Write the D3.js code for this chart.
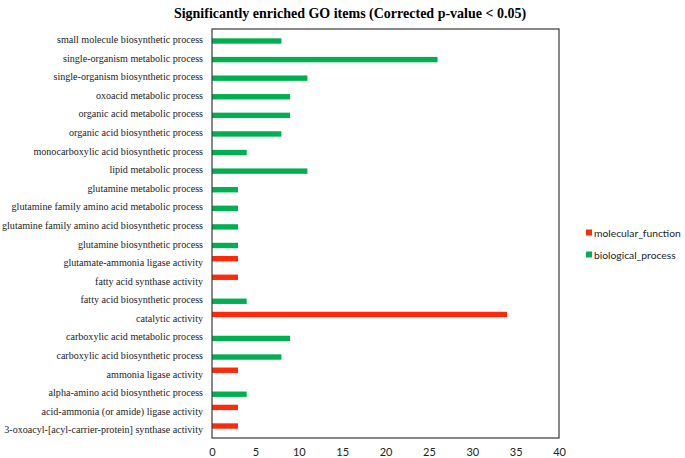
<!DOCTYPE html>
<html>
<head>
<meta charset="utf-8">
<script src="https://cdn.jsdelivr.net/npm/d3@7"></script>
<style>
  body { margin: 0; background: #fff; }
  svg { display: block; }
</style>
</head>
<body>
<svg id="chart" width="685" height="458"></svg>
<script>
const width = 685, height = 458;
const svg = d3.select("#chart");

// GO terms, top to bottom
const terms = [
  "small molecule biosynthetic process",
  "single-organism metabolic process",
  "single-organism biosynthetic process",
  "oxoacid metabolic process",
  "organic acid metabolic process",
  "organic acid biosynthetic process",
  "monocarboxylic acid biosynthetic process",
  "lipid metabolic process",
  "glutamine metabolic process",
  "glutamine family amino acid metabolic process",
  "glutamine family amino acid biosynthetic process",
  "glutamine biosynthetic process",
  "glutamate-ammonia ligase activity",
  "fatty acid synthase activity",
  "fatty acid biosynthetic process",
  "catalytic activity",
  "carboxylic acid metabolic process",
  "carboxylic acid biosynthetic process",
  "ammonia ligase activity",
  "alpha-amino acid biosynthetic process",
  "acid-ammonia (or amide) ligase activity",
  "3-oxoacyl-[acyl-carrier-protein] synthase activity"
];

const seriesNames = ["molecular_function", "biological_process"];
const molecularFunction = [0,0,0,0,0,0,0,0,0,0,0,0,3,3,0,34,0,0,3,0,3,3];
const biologicalProcess = [8,26,11,9,9,8,4,11,3,3,3,3,0,0,4,0,9,8,0,4,0,0];
const xTicks = [0, 5, 10, 15, 20, 25, 30, 35, 40];

const colors = { molecular_function: "#ff2a0a", biological_process: "#00b050" };

const rows = terms.map((t, i) => ({
  term: t,
  molecular_function: molecularFunction[i],
  biological_process: biologicalProcess[i]
}));

const plot = { left: 212, right: 559, top: 29, bottom: 438 };

const x = d3.scaleLinear().domain([0, 40]).range([plot.left, plot.right]);
const y = d3.scaleBand().domain(terms).range([plot.top, plot.bottom])
  .paddingInner(0.42).paddingOuter(0.21);
const ySub = d3.scaleBand().domain(seriesNames).range([0, y.bandwidth()]);

// title
svg.append("text")
  .attr("x", 350).attr("y", 18)
  .attr("text-anchor", "middle")
  .attr("font-family", "Liberation Serif")
  .attr("font-weight", "bold")
  .attr("font-size", 14)
  .text("Significantly enriched GO items (Corrected p-value < 0.05)");

// bars
const groups = svg.append("g").selectAll("g")
  .data(rows)
  .join("g")
    .attr("transform", d => `translate(0,${y(d.term)})`);

groups.selectAll("rect")
  .data(d => seriesNames.map(s => ({ key: s, value: d[s] })).filter(e => e.value > 0))
  .join("rect")
    .attr("x", x(0))
    .attr("y", d => ySub(d.key))
    .attr("width", d => x(d.value) - x(0))
    .attr("height", ySub.bandwidth())
    .attr("fill", d => colors[d.key]);

// frame
svg.append("rect")
  .attr("x", plot.left).attr("y", plot.top)
  .attr("width", plot.right - plot.left).attr("height", plot.bottom - plot.top)
  .attr("fill", "none")
  .attr("stroke", "#3a3a3a")
  .attr("stroke-width", 1.2);

// y labels
const yAxis = d3.axisLeft(y).tickSize(0).tickPadding(9);
svg.append("g")
  .attr("transform", `translate(${plot.left},1.5)`)
  .call(yAxis)
  .call(g => g.select(".domain").remove())
  .selectAll("text")
    .attr("font-family", "Liberation Serif")
    .attr("font-size", 10.1)
    .attr("fill", "#222");

// x ticks
const xAxis = d3.axisBottom(x).tickValues(xTicks).tickSize(0).tickPadding(10);
svg.append("g")
  .attr("transform", `translate(0,${plot.bottom})`)
  .call(xAxis)
  .call(g => g.select(".domain").remove())
  .selectAll("text")
    .attr("font-family", "Lato")
    .attr("font-size", 11)
    .attr("fill", "#222");

// legend
const legend = svg.append("g").attr("transform", "translate(586,233)");
seriesNames.forEach((s, i) => {
  const item = legend.append("g").attr("transform", `translate(0,${i * 22})`);
  item.append("rect")
    .attr("x", 0).attr("y", -3.5)
    .attr("width", 6).attr("height", 6)
    .attr("fill", colors[s]);
  item.append("text")
    .attr("x", 8).attr("y", 0)
    .attr("dy", "0.35em")
    .attr("font-family", "Lato")
    .attr("font-size", 10.3)
    .attr("fill", "#222")
    .text(s);
});
</script>
</body>
</html>
